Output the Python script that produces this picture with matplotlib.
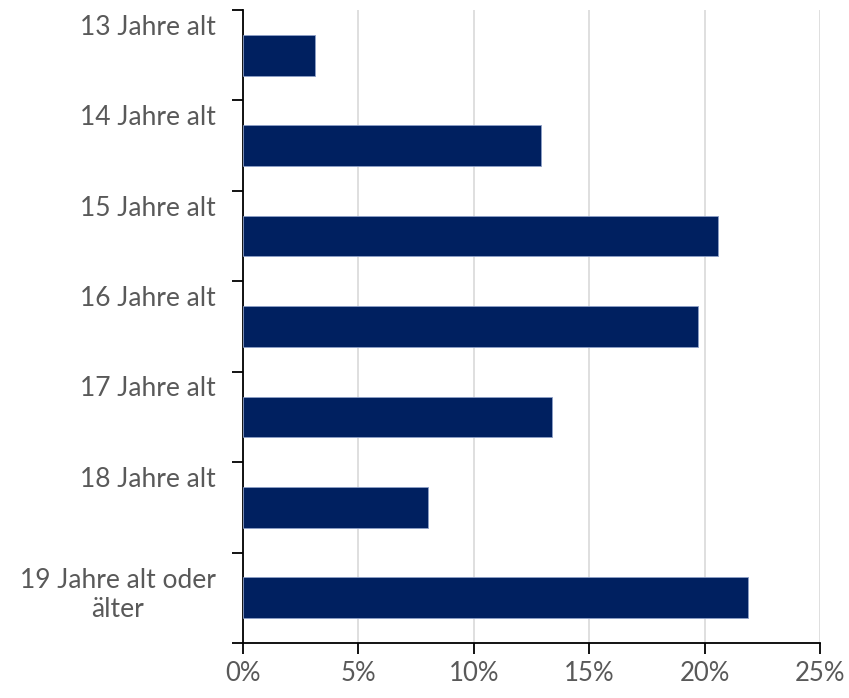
import matplotlib.pyplot as plt
import numpy as np

labels = ['13 Jahre alt', '14 Jahre alt', '15 Jahre alt', '16 Jahre alt',
          '17 Jahre alt', '18 Jahre alt', '19 Jahre alt oder\nälter']
values = [3.1, 12.9, 20.6, 19.7, 13.4, 8.0, 21.9]
xticks = [0, 5, 10, 15, 20, 25]

plt.rcParams['font.family'] = ['Lato', 'DejaVu Sans']

fig = plt.figure(figsize=(8.49, 6.98), dpi=100)
ax = fig.add_axes([243 / 849, 1 - 643 / 698, 577 / 849, 633 / 698])

y = np.arange(len(labels))
ax.barh(y, values, height=0.45, color='#002060', edgecolor='#8ea0c8', linewidth=0.6, zorder=3)

ax.set_xlim(0, 25)
ax.set_ylim(len(labels) - 0.5, -0.5)
ax.set_xticks(xticks)
ax.set_xticklabels([f'{t}%' for t in xticks], fontsize=18.5, color='#595959')
ax.set_yticks(np.arange(-0.5, len(labels), 1))
ax.set_yticklabels([])
ax.tick_params(axis='both', direction='out', length=8, width=1.3, color='black')
ax.tick_params(axis='x', pad=5)
ax.grid(axis='x', color='#d9d9d9', linewidth=1.2, zorder=0)
for s in ['top', 'right']:
    ax.spines[s].set_visible(False)
for s in ['left', 'bottom']:
    ax.spines[s].set_linewidth(1.3)

# category labels sit above the bar centre (single line) like the original
for i, lab in enumerate(labels):
    off = -0.03 if '\n' in lab else -0.31
    ax.text(-0.047, i + off, lab, transform=ax.get_yaxis_transform(),
            ha='right', va='center', fontsize=19, color='#595959',
            multialignment='center', linespacing=1.2)

fig.savefig('out.png', dpi=100)
